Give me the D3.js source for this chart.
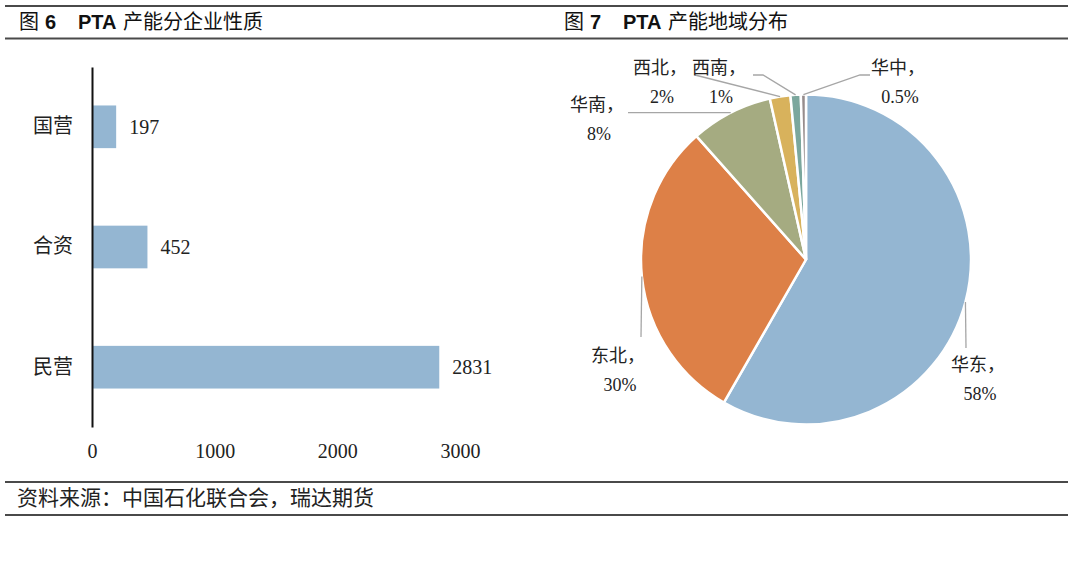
<!DOCTYPE html>
<html>
<head>
<meta charset="utf-8">
<script src="https://cdn.jsdelivr.net/npm/d3@7"></script>
<style>
	body { margin: 0; background: #fff; }
	svg { display: block; }
	.zh { font-family: "Liberation Serif", "Noto Sans CJK SC", serif; fill: #222; }
	.axis path { stroke: #111; stroke-width: 2; }
	.axis text { font-family: "Liberation Serif", "Noto Sans CJK SC", serif; font-size: 20px; fill: #222; }
	.rule { stroke: #4a4a4a; stroke-width: 2; }
</style>
</head>
<body>
<svg width="1080" height="567"></svg>
<script>
(function(){

	// 图6 PTA产能分企业性质
	var barCategories = ["国营", "合资", "民营"];
	var barValues = [197, 452, 2831];
	var barTicks = [0, 1000, 2000, 3000];

	// 图7 PTA产能地域分布
	var pieNames = ["华东", "东北", "华南", "西北", "西南", "华中"];
	var pieValues = [58, 30, 8, 2, 1, 0.5];
	var pieColors = ["#94b6d2", "#dd8047", "#a5ab81", "#d8b25c", "#7ba79d", "#968c8c"];

	var svg = d3.select("svg");

	// frame rules
	[6, 38.5, 482, 515].forEach(function(yy){
		svg.append("line").attr("class", "rule")
			.attr("x1", 5).attr("x2", 1068).attr("y1", yy).attr("y2", yy);
	});

	function title(x, num, rest){
		var t = svg.append("text").attr("x", x).attr("y", 29)
			.style("font-size", "20px").attr("fill", "#111");
		t.append("tspan").text("图").style("font-family", "'Noto Sans CJK SC'");
		t.append("tspan").text(num).attr("x", x + 26)
			.style("font-family", "'Liberation Sans', Arial").style("font-weight", "bold");
		t.append("tspan").text("PTA").attr("x", x + 59)
			.style("font-family", "'Liberation Sans', Arial").style("font-weight", "bold");
		t.append("tspan").text(rest).attr("x", x + 104)
			.style("font-family", "'Noto Sans CJK SC'");
	}
	title(19, "6", "产能分企业性质");
	title(564, "7", "产能地域分布");

	svg.append("text").attr("class", "zh")
		.attr("x", 17).attr("y", 498)
		.attr("dominant-baseline", "central")
		.style("font-size", "21px")
		.text("资料来源：中国石化联合会，瑞达期货");

	// ---- bar chart ----
	var x = d3.scaleLinear().domain([0, 3000]).range([92, 460]);
	var y = d3.scaleBand().domain(barCategories).range([67, 427])
		.paddingInner(0.645).paddingOuter(0.32);

	svg.selectAll(".bar")
		.data(barValues)
		.enter().append("rect")
			.attr("class", "bar")
			.attr("x", x(0))
			.attr("y", function(d, i){ return y(barCategories[i]); })
			.attr("width", function(d){ return x(d) - x(0); })
			.attr("height", y.bandwidth())
			.attr("fill", "#94b6d2");

	svg.selectAll(".val")
		.data(barValues)
		.enter().append("text")
			.attr("class", "zh")
			.attr("x", function(d){ return x(d) + 13; })
			.attr("y", function(d, i){ return y(barCategories[i]) + y.bandwidth() / 2; })
			.attr("dominant-baseline", "central")
			.style("font-size", "20px")
			.text(function(d){ return d; });

	svg.append("g")
		.attr("class", "axis")
		.attr("transform", "translate(0,427)")
		.call(d3.axisBottom(x).tickValues(barTicks).tickFormat(d3.format("d"))
			.tickSize(0).tickPadding(17))
		.call(function(g){ g.select(".domain").remove(); });

	svg.append("g")
		.attr("class", "axis")
		.attr("transform", "translate(92,0)")
		.call(d3.axisLeft(y).tickSize(0).tickPadding(19));

	// ---- pie chart ----
	var cx = 806, cy = 259.5, r = 165;
	var pie = d3.pie().sort(null).value(function(d){ return d; });
	var arcs = pie(pieValues);
	var arc = d3.arc().innerRadius(0).outerRadius(r);

	var pg = svg.append("g").attr("transform", "translate(" + cx + "," + cy + ")");
	pg.selectAll("path")
		.data(arcs)
		.enter().append("path")
			.attr("d", arc)
			.attr("fill", function(d, i){ return pieColors[i]; })
			.attr("stroke", "#fff")
			.attr("stroke-width", 2.5);

	// label layout: text centre + leader bend points (page coords)
	var labelLayout = [
		{tx: 978, ty: 365, pts: [[966, 348]]},
		{tx: 618, ty: 356, pts: [[641, 337]]},
		{tx: 597, ty: 105, pts: [[628, 112.7]]},
		{tx: 660, ty: 68, pts: [[695, 75]]},
		{tx: 719, ty: 68, pts: [[763, 75], [753, 75]]},
		{tx: 898, ty: 68, pts: [[860, 75], [870, 75]]}
	];

	arcs.forEach(function(a, i){
		var mid = (a.startAngle + a.endAngle) / 2;
		var start = [cx + r * Math.sin(mid), cy - r * Math.cos(mid)];
		var L = labelLayout[i];
		svg.append("path")
			.attr("d", d3.line()([start].concat(L.pts)))
			.attr("fill", "none")
			.attr("stroke", "#a6a6a6")
			.attr("stroke-width", 1.3);
		var t = svg.append("text").attr("class", "zh")
			.attr("text-anchor", "middle")
			.style("font-size", "18px");
		t.append("tspan").attr("x", L.tx).attr("y", L.ty)
			.attr("dominant-baseline", "central").text(pieNames[i] + "，");
		t.append("tspan").attr("x", L.tx + 2).attr("y", L.ty + 29)
			.attr("dominant-baseline", "central").text(pieValues[i] + "%");
	});

})();
</script>
</body>
</html>
